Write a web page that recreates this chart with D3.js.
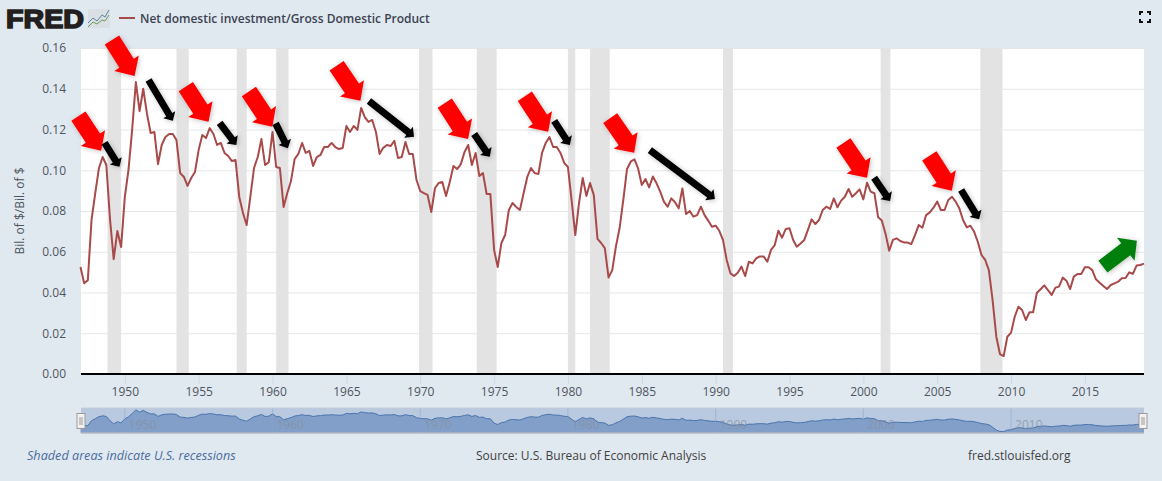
<!DOCTYPE html>
<html>
<head>
<meta charset="utf-8">
<script src="https://cdn.jsdelivr.net/npm/d3@7"></script>
<style>
html, body { margin: 0; padding: 0; background: #e1e9f0; overflow: hidden; }
svg { display: block; }
text { font-family: "Open Sans", sans-serif; }
</style>
</head>
<body>
<div id="container"></div>
<script>
// quarterly values, 1947 Q1 to 2019 Q1
const values = [
    .0525, .0445, .046, .0756,  .0888, .101, .1065, .1026,  .0756, .0564, .0702, .0623,
    .0869, .1001, .1198, .1433,  .129, .14, .128, .1183,  .1188, .103, .1124, .1163,
    .1178, .1178, .1148, .0986,  .0967, .0923, .0962, .0991,  .11, .1173, .1158, .1207,
    .1178, .1124, .1134, .1085,  .107, .1045, .105, .0869,  .079, .0731, .0869, .1011,
    .1065, .1153, .1026, .104,  .1188, .1016, .1011, .082,  .0888, .0947, .1055, .108,
    .1134, .1085, .1095, .1021,  .1065, .1075, .1114, .1114,  .1134, .1114, .1104, .1109,
    .1217, .1188, .1217, .1198,  .1306, .1261, .1237, .1247,  .1188, .108, .111, .1124,
    .1119, .1144, .106, .1065,  .1139, .108, .108, .0952,  .0898, .0888, .0879, .0795,
    .0913, .0937, .0942, .0874,  .0942, .1021, .1006, .103,  .109, .1124, .1026, .1085,
    .0972, .0986, .0883, .0883,  .0609, .0525, .0643, .0682,  .0805, .0839, .082, .0805,
    .0888, .0967, .1011, .0986,  .0982, .1085, .1134, .1163,  .1114, .1114, .1085, .1036,
    .1016, .0853, .0682, .0839,  .0962, .0874, .0937, .0879,  .0663, .0643, .0618, .0474,
    .051, .0625, .0715, .0854,  .1006, .1042, .1054, .1009,  .0928, .0957, .0916, .0969,
    .0936, .0895, .0846, .0821,  .0862, .0843, .0813, .0911,  .0785, .08, .0772, .078,
    .0821, .078, .0753, .0723,  .0728, .0703, .0658, .056,  .0494, .0481, .0497, .0527,
    .0481, .0551, .0543, .0568,  .0577, .0577, .0551, .0609,  .0633, .0703, .0669, .0712,
    .0715, .0658, .0625, .0641,  .0658, .0707, .0759, .0736,  .0756, .0805, .0821, .081,
    .0862, .0818, .0851, .087,  .0908, .087, .0887, .0906,  .0857, .0939, .0895, .0887,
    .0769, .0753, .069, .0605,  .0658, .0666, .0653, .0646,  .0645, .0638, .0682, .0731,
    .0718, .078, .0793, .0816,  .0846, .0805, .0805, .0854,  .087, .0846, .0813, .0756,
    .072, .0728, .0699, .0649,  .0584, .056, .051, .0363,  .0183, .0098, .0088, .0183,
    .0203, .0281, .033, .0314,  .0265, .0303, .0303, .0399,  .0416, .0435, .0412, .0388,
    .0424, .0429, .0473, .0458,  .0417, .0478, .0491, .0491,  .0524, .0524, .051, .0465,
    .0448, .0432, .0417, .0437,  .0445, .0453, .047, .0471,  .0499, .0491, .0532, .0535,
    .0542
];

// recession start / end, decimal years
const recessions = [
    [1948.83, 1949.75], [1953.5, 1954.33], [1957.58, 1958.25], [1960.25, 1961.08],
    [1969.92, 1970.83], [1973.83, 1975.17], [1980, 1980.5], [1981.5, 1982.83],
    [1990.5, 1991.17], [2001.17, 2001.83], [2007.92, 2009.42]
];

const yTicks = [0, .02, .04, .06, .08, .1, .12, .14, .16];
const xTickYears = d3.range(1950, 2016, 5);
const navYears = d3.range(1950, 2011, 10);

// hand drawn arrows on the chart: tail year, tail value, tip year, tip value
const redArrows = [
    [1946.86, .1266, 1948.40, .1096], [1949.13, .1639, 1950.66, .1463],
    [1954.13, .1410, 1955.67, .1238], [1958.40, .1386, 1959.99, .1214],
    [1964.34, .1513, 1965.95, .1341], [1971.66, .1329, 1973.24, .1153],
    [1977.08, .1363, 1978.66, .1189], [1982.86, .1256, 1984.49, .1086],
    [1998.65, .1134, 2000.25, .0963], [2004.47, .1071, 2005.99, .0900]
];
const blackArrows = [
    [1948.63, .1135, 1949.64, .1017], [1951.61, .1443, 1953.25, .1243],
    [1956.42, .1233, 1957.55, .1124], [1960.21, .1230, 1961.04, .1108],
    [1966.53, .1340, 1969.58, .1165], [1973.65, .1178, 1974.71, .1066],
    [1979.07, .1242, 1980.13, .1124], [1985.55, .1099, 1989.95, .0859],
    [2000.73, .0963, 2001.81, .0849], [2006.62, .0903, 2007.84, .0759]
];
const greenArrows = [[2016.22, .0527, 2018.52, .0654]];

const width = 1162;
const height = 481;
const plot = {left: 81, right: 1144, top: 48, bottom: 374};
const nav = {top: 408, bottom: 433};

const toDate = y => {
    const yr = Math.floor(y);
    return new Date(yr, 0, 1 + (y - yr) * 365.25);
};
const series = values.map((v, i) => ({date: new Date(1947, i * 3, 1), value: v}));

const x = d3.scaleTime()
    .domain([new Date(1947, 0, 1), new Date(2019, 0, 1)])
    .range([80.5, plot.right]);
const y = d3.scaleLinear().domain([0, .16]).range([plot.bottom, plot.top]);
const yNav = d3.scaleLinear().domain([0, .155]).range([nav.bottom, nav.top]);

const svg = d3.select("#container").append("svg")
    .attr("width", width)
    .attr("height", height)
    .attr("viewBox", [0, 0, width, height]);

const defs = svg.append("defs");
const shadow = defs.append("filter").attr("id", "shadow")
    .attr("x", "-30%").attr("y", "-30%").attr("width", "160%").attr("height", "160%");
shadow.append("feDropShadow")
    .attr("dx", 1).attr("dy", 1).attr("stdDeviation", 2.5)
    .attr("flood-color", "#000").attr("flood-opacity", .25);

// plot area
svg.append("rect")
    .attr("x", plot.left).attr("y", plot.top)
    .attr("width", plot.right - plot.left).attr("height", plot.bottom - plot.top)
    .attr("fill", "#fff");

// y axis with grid
const yAxis = svg.append("g")
    .attr("transform", `translate(${plot.left},0)`)
    .call(d3.axisLeft(y).tickValues(yTicks).tickFormat(d3.format(".2f"))
        .tickSize(-(plot.right - plot.left)).tickPadding(15));
yAxis.select(".domain").remove();
yAxis.selectAll("line").attr("stroke", "#e6e6e6");
yAxis.selectAll("text").attr("fill", "#4d5560").style("font-size", "12px");

svg.append("g").selectAll("rect")
    .data(recessions)
    .join("rect")
    .attr("x", d => x(toDate(d[0])))
    .attr("width", d => x(toDate(d[1])) - x(toDate(d[0])))
    .attr("y", plot.top)
    .attr("height", plot.bottom - plot.top)
    .attr("fill", "#e3e3e3");

// x axis
const xAxis = svg.append("g")
    .attr("transform", `translate(0,${plot.bottom})`)
    .call(d3.axisBottom(x).tickValues(xTickYears.map(d => new Date(d, 0, 1)))
        .tickFormat(d3.timeFormat("%Y")).tickSize(10).tickPadding(3));
xAxis.select(".domain").remove();
xAxis.selectAll("line").attr("stroke", "#ccd6eb");
xAxis.selectAll("text").attr("fill", "#4d5560").style("font-size", "12px");

svg.append("line")
    .attr("x1", plot.left).attr("x2", plot.right)
    .attr("y1", plot.bottom).attr("y2", plot.bottom)
    .attr("stroke", "#000").attr("stroke-width", 2);

const line = d3.line().x(d => x(d.date)).y(d => y(d.value));
svg.append("path")
    .datum(series)
    .attr("d", line)
    .attr("fill", "none")
    .attr("stroke", "#a94a4a")
    .attr("stroke-width", 2)
    .attr("stroke-linejoin", "round");

svg.append("text")
    .attr("transform", `translate(24,${(plot.top + plot.bottom) / 2}) rotate(-90)`)
    .attr("text-anchor", "middle")
    .attr("fill", "#4d5560")
    .style("font-size", "12px")
    .text("Bil. of $/Bil. of $");

// arrow polygon from tail to tip, sizes in pixels
function arrowPoints(d, shaftW, headW, headL) {
    const x0 = x(toDate(d[0])), y0 = y(d[1]), x1 = x(toDate(d[2])), y1 = y(d[3]);
    const len = Math.hypot(x1 - x0, y1 - y0);
    const ux = (x1 - x0) / len, uy = (y1 - y0) / len;
    const bx = x1 - ux * headL, by = y1 - uy * headL;
    const px = -uy, py = ux;
    return [
        [x0 + px * shaftW / 2, y0 + py * shaftW / 2],
        [bx + px * shaftW / 2, by + py * shaftW / 2],
        [bx + px * headW / 2, by + py * headW / 2],
        [x1, y1],
        [bx - px * headW / 2, by - py * headW / 2],
        [bx - px * shaftW / 2, by - py * shaftW / 2],
        [x0 - px * shaftW / 2, y0 - py * shaftW / 2]
    ].join(" ");
}

function drawArrows(list, color, shaftW, headW, headL) {
    svg.append("g").attr("filter", "url(#shadow)").selectAll("polygon")
        .data(list)
        .join("polygon")
        .attr("points", d => arrowPoints(d, shaftW, headW, headL))
        .attr("fill", color);
}
drawArrows(redArrows, "#ff0000", 17, 29, 15);
drawArrows(blackArrows, "#000000", 7, 14, 7);
drawArrows(greenArrows, "#007f0e", 15, 29, 14);

// navigator strip
svg.append("rect")
    .attr("x", plot.left).attr("y", nav.top)
    .attr("width", plot.right - plot.left).attr("height", nav.bottom - nav.top)
    .attr("fill", "#b9c9e0");
const area = d3.area().x(d => x(d.date)).y0(nav.bottom).y1(d => yNav(d.value));
svg.append("path").datum(series).attr("d", area).attr("fill", "#819fc9");
svg.append("path").datum(series)
    .attr("d", d3.line().x(d => x(d.date)).y(d => yNav(d.value)))
    .attr("fill", "none").attr("stroke", "#4a74ad").attr("stroke-width", 1);

const navG = svg.append("g").selectAll("g")
    .data(navYears)
    .join("g")
    .attr("transform", d => `translate(${x(new Date(d, 0, 1))},0)`);
navG.append("line")
    .attr("y1", nav.top).attr("y2", nav.bottom)
    .attr("stroke", "#8aa3c8").attr("stroke-opacity", .5);
navG.append("text")
    .attr("x", 4).attr("y", 429)
    .attr("fill", "#8a8f9c").attr("fill-opacity", .75)
    .style("font-size", "12px")
    .text(d => d);

svg.append("path")
    .attr("d", `M${plot.left},${nav.bottom}H${plot.right}`)
    .attr("stroke", "#b3b9c2").attr("stroke-width", 1.5);
svg.append("path")
    .attr("d", `M${plot.left},${nav.top}H${plot.right}`)
    .attr("stroke", "#c4ccd8").attr("stroke-width", 1);

// navigator handles
const handle = svg.append("g").selectAll("g")
    .data([plot.left, plot.right - 1])
    .join("g")
    .attr("transform", d => `translate(${d - 4.5},413)`);
handle.append("rect")
    .attr("x", .5).attr("y", .5).attr("width", 8).attr("height", 15)
    .attr("fill", "#f2f2f2").attr("stroke", "#999");
handle.append("path")
    .attr("d", "M3.5,4V12M5.5,4V12")
    .attr("stroke", "#999").attr("fill", "none");

// footer
svg.append("text").attr("x", 27).attr("y", 460)
    .attr("fill", "#4a6c9e").style("font-size", "12.65px").style("font-style", "italic")
    .text("Shaded areas indicate U.S. recessions");
svg.append("text").attr("x", 476).attr("y", 460)
    .attr("fill", "#3f3f3f").style("font-size", "12px")
    .text("Source: U.S. Bureau of Economic Analysis");
svg.append("text").attr("x", 968).attr("y", 460)
    .attr("fill", "#3f3f3f").style("font-size", "12px")
    .text("fred.stlouisfed.org");

// header: logo and legend
svg.append("text").attr("x", 6).attr("y", 28)
    .attr("textLength", 78).attr("lengthAdjust", "spacingAndGlyphs")
    .attr("fill", "#231f20").attr("stroke", "#231f20").attr("stroke-width", 1.5)
    .style("font-family", "'Liberation Sans', sans-serif")
    .style("font-weight", "bold").style("font-size", "25px")
    .text("FRED");
const logoIcon = svg.append("g").attr("transform", "translate(88,9)");
logoIcon.append("rect").attr("width", 22).attr("height", 19).attr("fill", "#d9dfe3");
logoIcon.append("path").attr("d", "M0,14L5,9L9,12L14,6L17,8L21,1")
    .attr("fill", "none").attr("stroke", "#5d83a8").attr("stroke-width", 1);
logoIcon.append("path").attr("d", "M0,18L5,13L9,15L14,11L17,12L21,6")
    .attr("fill", "none").attr("stroke", "#6f9e5a").attr("stroke-width", 1);

svg.append("line")
    .attr("x1", 119).attr("x2", 135).attr("y1", 18).attr("y2", 18)
    .attr("stroke", "#a94a4a").attr("stroke-width", 2);
svg.append("text").attr("x", 140).attr("y", 23)
    .attr("fill", "#3b4252")
    .style("font-size", "12px").style("font-weight", 600)
    .text("Net domestic investment/Gross Domestic Product");

// fullscreen icon
svg.append("path")
    .attr("d", "M1140,15V12H1143M1147,12H1150V15M1150,19V22H1147M1143,22H1140V19")
    .attr("fill", "none").attr("stroke", "#111").attr("stroke-width", 2);
</script>
</body>
</html>
